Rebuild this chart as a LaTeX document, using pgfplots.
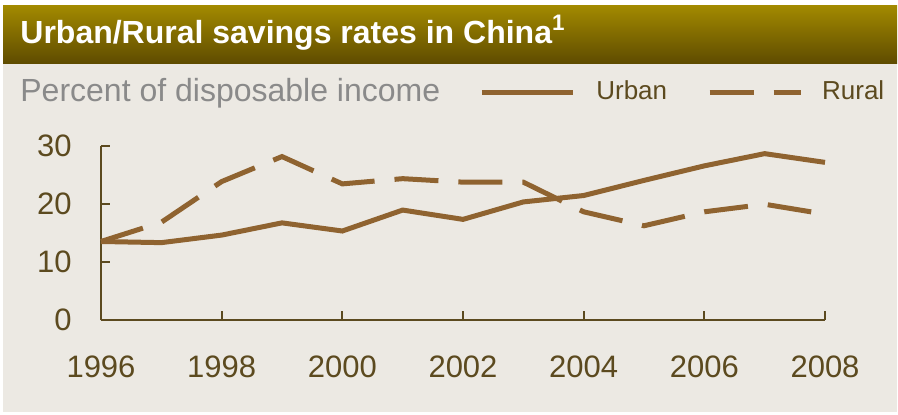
\documentclass[border=0pt]{standalone}
\usepackage{pgfplots}
\pgfplotsset{compat=1.18}
\usepackage{fontspec}
\setmainfont{Liberation Sans}
\definecolor{bg}{RGB}{236,233,227}
\definecolor{linec}{RGB}{143,99,48}
\definecolor{axc}{RGB}{92,74,31}
\definecolor{goldtop}{RGB}{163,138,0}
\definecolor{goldbot}{RGB}{95,76,0}
\definecolor{subc}{RGB}{138,138,138}
\begin{document}
\begin{tikzpicture}
\useasboundingbox (0pt,0pt) rectangle (449pt,207pt);
\fill[white] (0pt,0pt) rectangle (449pt,207pt);
\fill[bg] (1.5pt,1pt) rectangle (448.5pt,175.5pt);
\shade[top color=goldtop, bottom color=goldbot] (1.5pt,175.5pt) rectangle (448.5pt,204.5pt);
\node[anchor=base west, inner sep=0pt, text=white, font=\fontsize{16}{19}\selectfont\bfseries] at (10pt,185.5pt) {Urban/Rural savings rates in China\textsuperscript{1}};
\node[anchor=base west, inner sep=0pt, text=subc, font=\fontsize{16}{19}\selectfont] at (10pt,156.2pt) {Percent of disposable income};
\begin{axis}[
  at={(50.5pt,47pt)}, anchor=south west,
  scale only axis, width=362pt, height=87.25pt,
  xmin=1996, xmax=2008, ymin=0, ymax=30,
  clip=false,
  axis x line*=bottom, axis y line*=left,
  axis line style={-, draw=axc, line width=1pt},
  xtick={1996,1998,...,2008}, ytick={0,10,20,30},
  tick align=inside,
  major tick length=4.5pt,
  every tick/.style={draw=axc, line width=1pt},
  /pgf/number format/assume math mode=true,
  x tick label style={/pgf/number format/1000 sep=, anchor=north, inner sep=0pt, yshift=-17.5pt},
  y tick label style={anchor=east, inner sep=0pt, xshift=-14.5pt},
  tick label style={font=\fontsize{15.5}{18}\selectfont, text=axc},
  legend columns=2,
  legend style={at={(0.522,1.3066)}, anchor=west, draw=none, fill=none, inner sep=0pt,
    font=\fontsize{13}{15}\selectfont, text=axc, nodes={inner sep=0pt},
    /tikz/column 1/.style={column sep=10.5pt},
    /tikz/column 2/.style={column sep=20pt},
    /tikz/column 3/.style={column sep=9.5pt}},
  legend image code/.code={\draw[#1] (0pt,0pt) -- (45.5pt,0pt);},
]
\addplot[linec, line width=2.5pt] coordinates {
(1996,13.5) (1997,13.3) (1998,14.6) (1999,16.7) (2000,15.3) (2001,18.9) (2002,17.3)
(2003,20.3) (2004,21.4) (2005,24.0) (2006,26.5) (2007,28.6) (2008,27.1)};
\addlegendentry{Urban}
\addplot[linec, line width=2.5pt, dash pattern=on 22pt off 10pt] coordinates {
(1996,13.5) (1997,16.8) (1998,23.8) (1999,28.1) (2000,23.4) (2001,24.3) (2002,23.7)
(2003,23.7) (2004,18.6) (2005,16.2) (2006,18.6) (2007,19.9) (2008,18.2)};
\addlegendentry{Rural}
\end{axis}
\end{tikzpicture}
\end{document}
